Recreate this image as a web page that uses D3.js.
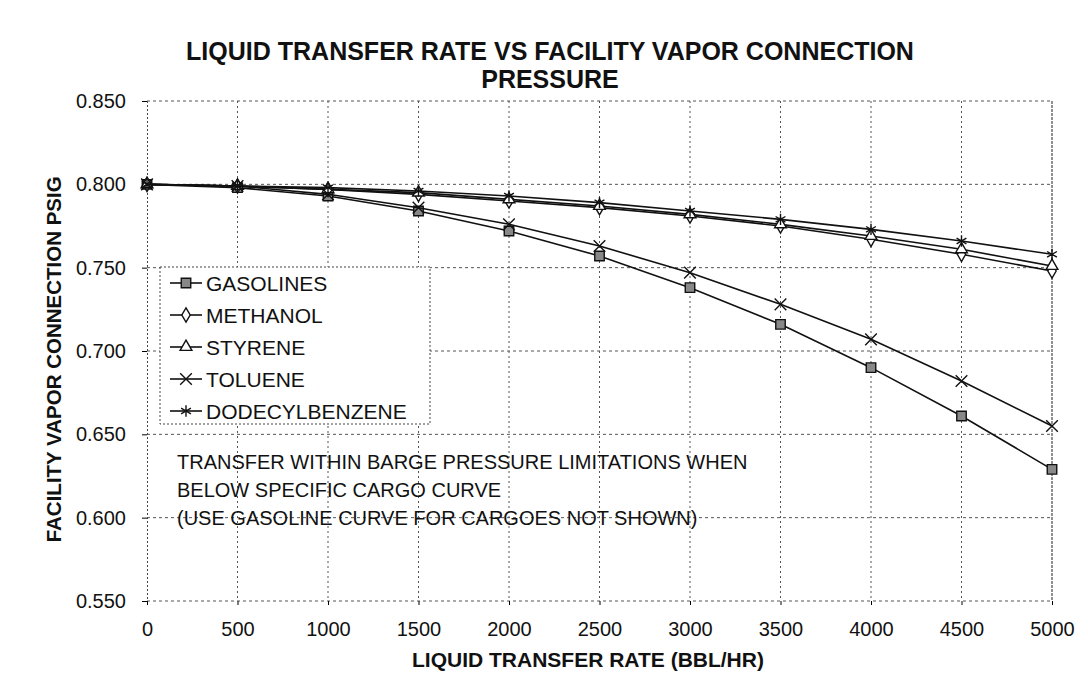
<!DOCTYPE html>
<html>
<head>
<meta charset="utf-8">
<script src="https://cdn.jsdelivr.net/npm/d3@7"></script>
<style>
body { margin: 0; background: #fff; }
text { font-family: "Liberation Sans", Arial, sans-serif; fill: #111; }
</style>
</head>
<body>
<script>
/* global d3 */
// chart data
var rates = [0, 500, 1000, 1500, 2000, 2500, 3000, 3500, 4000, 4500, 5000];
var gasolines = [0.800, 0.798, 0.793, 0.784, 0.772, 0.757, 0.738, 0.716, 0.690, 0.661, 0.629];
var methanol = [0.800, 0.799, 0.797, 0.794, 0.790, 0.786, 0.781, 0.775, 0.767, 0.758, 0.748];
var styrene = [0.800, 0.799, 0.797, 0.795, 0.791, 0.787, 0.782, 0.776, 0.769, 0.761, 0.751];
var toluene = [0.800, 0.799, 0.794, 0.786, 0.776, 0.763, 0.747, 0.728, 0.707, 0.682, 0.655];
var dodecylbenzene = [0.800, 0.799, 0.798, 0.796, 0.793, 0.789, 0.784, 0.779, 0.773, 0.766, 0.758];
var seriesNames = ["GASOLINES", "METHANOL", "STYRENE", "TOLUENE", "DODECYLBENZENE"];
var yTicks = [0.550, 0.600, 0.650, 0.700, 0.750, 0.800, 0.850];
var titleLines = ["LIQUID TRANSFER RATE VS FACILITY VAPOR CONNECTION", "PRESSURE"];
var noteLines = ["TRANSFER WITHIN BARGE PRESSURE LIMITATIONS WHEN",
                 "BELOW SPECIFIC CARGO CURVE",
                 "(USE GASOLINE CURVE FOR CARGOES NOT SHOWN)"];

var width = 1088;
var height = 690;

var series = [
    {name: seriesNames[0], values: gasolines, symbol: d3.symbolSquare, size: 90, fill: "#888"},
    {name: seriesNames[1], values: methanol, symbol: d3.symbolDiamond, size: 60, fill: "#fff"},
    {name: seriesNames[2], values: styrene, symbol: d3.symbolTriangle, size: 60, fill: "#fff"},
    {name: seriesNames[3], values: toluene, symbol: d3.symbolTimes, size: 90, fill: "none"},
    {name: seriesNames[4], values: dodecylbenzene, symbol: d3.symbolAsterisk, size: 90, fill: "none"}
];

var x = d3.scaleLinear().domain([0, 5000]).range([147, 1052]);
var y = d3.scaleLinear().domain([0.55, 0.85]).range([601, 101]);

var svg = d3.select("body")
    .append("svg")
    .attr("width", width)
    .attr("height", height);

//grid
svg.append("g")
    .selectAll("line")
    .data(rates.slice(1))
    .enter().append("line")
    .attr("x1", function(d) { return x(d); })
    .attr("x2", function(d) { return x(d); })
    .attr("y1", y(0.85))
    .attr("y2", y(0.55))
    .attr("stroke", function(d) { return d === 5000 ? "#222" : "#555"; })
    .attr("stroke-width", 1)
    .attr("stroke-dasharray", function(d) { return d === 5000 ? "3,1" : "2,3"; });

svg.append("g")
    .selectAll("line")
    .data(yTicks)
    .enter().append("line")
    .attr("x1", x(0))
    .attr("x2", x(5000))
    .attr("y1", function(d) { return y(d); })
    .attr("y2", function(d) { return y(d); })
    .attr("stroke", "#555")
    .attr("stroke-width", 1)
    .attr("stroke-dasharray", "3,3");

//axes
var yAxis = svg.append("g")
    .attr("transform", "translate(" + x(0) + ",0)")
    .call(d3.axisLeft(y)
        .tickValues(yTicks)
        .tickFormat(d3.format(".3f"))
        .tickSize(5)
        .tickPadding(16));
yAxis.select(".domain").attr("stroke", "#444").attr("stroke-dasharray", "2,2");
yAxis.selectAll("text").attr("font-size", 20);

var xAxis = svg.append("g")
    .attr("transform", "translate(0," + y(0.55) + ")")
    .call(d3.axisBottom(x)
        .tickValues(rates)
        .tickFormat(d3.format("d"))
        .tickSize(4)
        .tickPadding(17));
xAxis.select(".domain").remove();
xAxis.selectAll("text").attr("font-size", 20);

//title
svg.append("g")
    .selectAll("text")
    .data(titleLines)
    .enter().append("text")
    .attr("x", 550)
    .attr("y", function(d, i) { return 60 + i * 28; })
    .attr("text-anchor", "middle")
    .attr("font-size", 25)
    .attr("font-weight", "bold")
    .text(function(d) { return d; });

svg.append("text")
    .attr("x", 588)
    .attr("y", 667)
    .attr("text-anchor", "middle")
    .attr("font-size", 21)
    .attr("font-weight", "bold")
    .text("LIQUID TRANSFER RATE (BBL/HR)");

svg.append("text")
    .attr("transform", "translate(61," + y(0.695) + ") rotate(-90)")
    .attr("text-anchor", "middle")
    .attr("font-size", 20.5)
    .attr("font-weight", "bold")
    .text("FACILITY VAPOR CONNECTION PSIG");

//note
svg.append("g")
    .selectAll("text")
    .data(noteLines)
    .enter().append("text")
    .attr("x", 177)
    .attr("y", function(d, i) { return 469 + i * 28; })
    .attr("font-size", 20)
    .text(function(d) { return d; });

//lines and markers
var line = d3.line()
    .x(function(d, i) { return x(rates[i]); })
    .y(function(d) { return y(d); });

var symbolPath = function(s) {
    return d3.symbol().type(s.symbol).size(s.size)();
};

var groups = svg.selectAll(".series")
    .data(series)
    .enter().append("g")
    .attr("class", "series");

groups.append("path")
    .attr("d", function(d) { return line(d.values); })
    .attr("fill", "none")
    .attr("stroke", "#111")
    .attr("stroke-width", 1.6);

groups.each(function(s) {
    d3.select(this).selectAll(".mark")
        .data(s.values)
        .enter().append("path")
        .attr("class", "mark")
        .attr("transform", function(d, i) { return "translate(" + x(rates[i]) + "," + y(d) + ")"; })
        .attr("d", symbolPath(s))
        .attr("fill", s.fill)
        .attr("stroke", "#111")
        .attr("stroke-width", 1.4);
});

//legend
var legend = svg.append("g")
    .attr("transform", "translate(160,267)");

legend.append("rect")
    .attr("width", 270)
    .attr("height", 157)
    .attr("fill", "#fff")
    .attr("stroke", "#444")
    .attr("stroke-dasharray", "2,2");

var item = legend.selectAll(".item")
    .data(series)
    .enter().append("g")
    .attr("class", "item")
    .attr("transform", function(d, i) { return "translate(0," + (16 + i * 32) + ")"; });

item.append("line")
    .attr("x1", 10)
    .attr("x2", 42)
    .attr("stroke", "#111")
    .attr("stroke-width", 1.6);

item.append("path")
    .attr("transform", "translate(26,0)")
    .attr("d", symbolPath)
    .attr("fill", function(d) { return d.fill; })
    .attr("stroke", "#111")
    .attr("stroke-width", 1.4);

item.append("text")
    .attr("x", 46)
    .attr("dy", "0.36em")
    .attr("font-size", 21)
    .text(function(d) { return d.name; });
</script>
</body>
</html>
